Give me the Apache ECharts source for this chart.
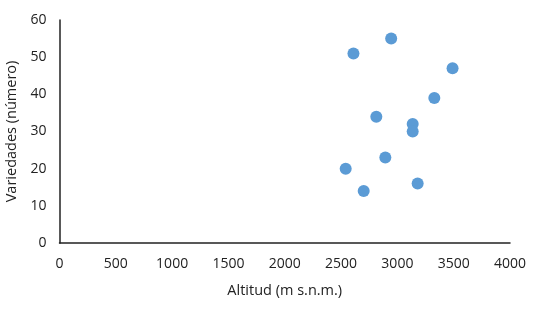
<!DOCTYPE html>
<html><head><meta charset="utf-8">
<script src="https://cdn.jsdelivr.net/npm/echarts@6/dist/echarts.min.js"></script>
<style>html,body{margin:0;padding:0;background:#fff}#c{width:552px;height:320px}</style>
</head><body><div id="c"></div>
<script>
const altitud = [2610, 2945, 3490, 3328, 2813, 3136, 3136, 2893, 2541, 2701, 3180];
const variedades = [51, 55, 47, 39, 34, 32, 30, 23, 20, 14, 16];
const xTitle = 'Altitud (m s.n.m.)';
const yTitle = 'Variedades (número)';
const font = 'Open Sans';
const chart = echarts.init(document.getElementById('c'));
chart.setOption({
  animation: false,
  grid: {left: 59.5, right: 42, top: 20, bottom: 77, containLabel: false, outerBoundsMode: 'none'},
  xAxis: {
    type: 'value', min: 0, max: 4000, interval: 500,
    name: xTitle, nameLocation: 'middle', nameGap: 40,
    nameTextStyle: {color: '#222', fontSize: 14.5, fontFamily: font},
    axisLine: {show: true, lineStyle: {color: '#222', width: 1.5}},
    axisTick: {show: false}, splitLine: {show: false},
    axisLabel: {color: '#222', fontSize: 14, fontFamily: font, margin: 14, formatter: v => String(v)}
  },
  yAxis: {
    type: 'value', min: 0, max: 60, interval: 10,
    name: yTitle, nameLocation: 'middle', nameGap: 37,
    nameTextStyle: {color: '#222', fontSize: 14.5, fontFamily: font},
    axisLine: {show: true, lineStyle: {color: '#222', width: 1.5}},
    axisTick: {show: false}, splitLine: {show: false},
    axisLabel: {color: '#222', fontSize: 14, fontFamily: font, margin: 13, formatter: v => String(v)}
  },
  series: [{
    type: 'scatter', symbolSize: 12,
    itemStyle: {color: '#5B9BD5', opacity: 1},
    data: altitud.map((x, i) => [x, variedades[i]])
  }]
});
</script></body></html>
